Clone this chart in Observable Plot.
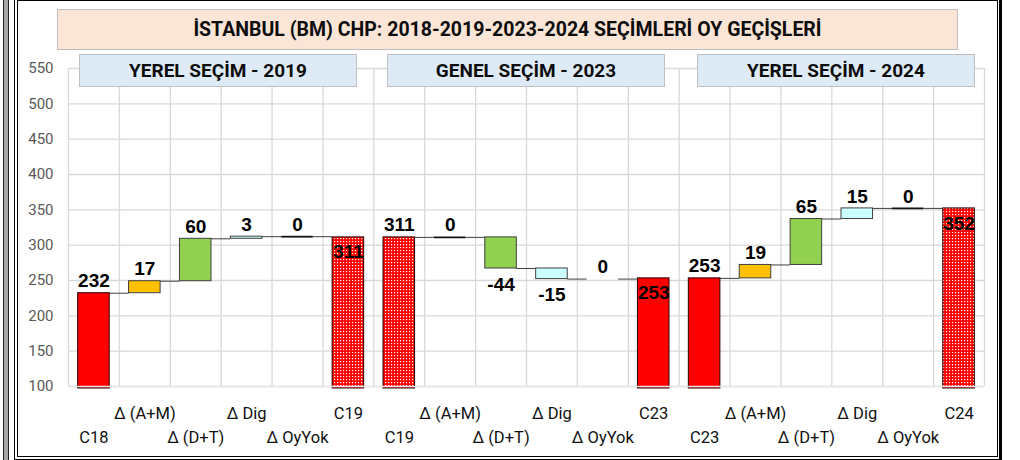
<!DOCTYPE html>
<html><head><meta charset="utf-8">
<script src="https://cdn.jsdelivr.net/npm/d3@7"></script>
<script src="https://cdn.jsdelivr.net/npm/@observablehq/plot@0.6"></script>
<style>
html,body{margin:0;padding:0;background:#fff;}
#wrap{position:relative;width:1020px;height:460px;overflow:hidden;font-family:Roboto,sans-serif;}
#chart{position:absolute;left:0;top:0;}
.box{position:absolute;box-sizing:border-box;display:flex;align-items:center;justify-content:center;font-weight:700;color:#0d0d0d;border:1.5px solid #bfbfbf;white-space:nowrap;}
.title{left:57px;top:9px;width:901px;height:41px;background:#fbe5d6;font-size:19.5px;}
.panel{top:54px;height:33px;background:#deebf7;font-size:19px;}
.frame{position:absolute;box-sizing:border-box;}
</style></head>
<body>
<div id="wrap">
  <div id="chart"></div>
</div>
<script>
// ---- data ----
const chartTitle = "İSTANBUL (BM) CHP: 2018-2019-2023-2024 SEÇİMLERİ OY GEÇİŞLERİ";
const groupTitles = ["YEREL SEÇİM - 2019", "GENEL SEÇİM - 2023", "YEREL SEÇİM - 2024"];
const startNames = ["C18", "C19", "C23"];
const endNames = ["C19", "C23", "C24"];
const stepNames = ["Δ (A+M)", "Δ (D+T)", "Δ Dig", "Δ OyYok"];
const startValues = [232, 311, 253];
const endValues = [311, 253, 352];
const steps2019 = [17, 60, 3, 0];
const steps2023 = [0, -44, -15, 0];
const steps2024 = [19, 65, 15, 0];
const hiddenSteps = [[], ["Δ OyYok"], []];
const stepColors = ["#ffc000", "#92d050", "#ccffff", "#000000"];
const dottedTotals = ["C19", "C24"];
const yTicks = [100, 150, 200, 250, 300, 350, 400, 450, 500, 550];

// ---- build tables ----
const yMin = yTicks[0], yMax = yTicks[yTicks.length - 1];
const stepsByGroup = [steps2019, steps2023, steps2024];
const bars = [], connectors = [], labels = [], cats = [];
groupTitles.forEach((g, gi) => {
  const base = gi * 6;
  let level = startValues[gi];
  bars.push({i: base, kind: "total", y1: yMin, y2: level,
    fill: dottedTotals.includes(startNames[gi]) ? "url(#dotsRed)" : "#ff0000"});
  labels.push({i: base, y: level, text: String(level), pos: "above"});
  cats.push({i: base, name: startNames[gi]});
  connectors.push({i: base, y: level});
  stepsByGroup[gi].forEach((v, k) => {
    const i = base + 1 + k;
    const from = level;
    level = from + v;
    bars.push({i, kind: "step", y1: from, y2: level, fill: stepColors[k],
      hidden: hiddenSteps[gi].includes(stepNames[k])});
    labels.push({i, y: v < 0 ? level : Math.max(from, level), text: String(v), pos: v < 0 ? "below" : "above"});
    cats.push({i, name: stepNames[k]});
    connectors.push({i, y: level});
  });
  const e = base + 5;
  bars.push({i: e, kind: "total", y1: yMin, y2: endValues[gi],
    fill: dottedTotals.includes(endNames[gi]) ? "url(#dotsRed)" : "#ff0000"});
  labels.push({i: e, y: endValues[gi], text: String(endValues[gi]), pos: "inside"});
  cats.push({i: e, name: endNames[gi]});
});
// connectors only within a group
const conns = connectors.filter(d => d.i % 6 < 5);

const L = d => d.i + 0.19, R = d => d.i + 0.81;

const defsMark = () => {
  const ns = "http://www.w3.org/2000/svg";
  const g = document.createElementNS(ns, "g");
  g.innerHTML = `<defs><pattern id="dotsRed" width="3" height="3" patternUnits="userSpaceOnUse">
    <rect width="3" height="3" fill="#ff0000"></rect>
    <rect x="1" y="1" width="1.2" height="1.2" fill="#ffffff"></rect></pattern></defs>`;
  return g;
};

const numFont = "'Liberation Sans', Arial, sans-serif";

const chart = Plot.plot({
  width: 1020, height: 460,
  marginLeft: 68, marginRight: 36, marginTop: 68, marginBottom: 74,
  style: {background: "transparent", color: "#595959", fontFamily: "Roboto, sans-serif"},
  x: {domain: [0, 18], axis: null},
  y: {domain: [yMin, yMax], axis: null},
  color: {type: "identity"},
  marks: [
    defsMark,
    Plot.ruleY(yTicks, {stroke: "#d9d9d9", strokeWidth: 1.3}),
    Plot.ruleX(d3.range(19), {y1: yMin, y2: yMax, stroke: "#d9d9d9", strokeWidth: 1.3}),
    Plot.axisY(yTicks, {tickSize: 0, tickPadding: 15, fontSize: 15, color: "#595959"}),
    Plot.ruleY(conns, {y: "y", x1: d => d.i + 0.81, x2: d => d.i + 1.19, stroke: "#404040", strokeWidth: 1}),
    Plot.rect(bars.filter(d => d.kind === "total"), {x1: L, x2: R, y1: "y1", y2: "y2", fill: "fill", stroke: "#2a0000", strokeWidth: 1, insetBottom: -2}),
    Plot.rect(bars.filter(d => d.kind === "step" && d.y1 !== d.y2), {x1: L, x2: R, y1: "y1", y2: "y2", fill: "fill", stroke: "#404040", strokeWidth: 1}),
    Plot.ruleY(bars.filter(d => d.kind === "step" && d.y1 === d.y2 && !d.hidden), {y: "y1", x1: L, x2: R, stroke: "#111", strokeWidth: 1.8}),
    Plot.ruleY([yMin], {stroke: "#e6e6e6", strokeWidth: 1.3}),
    Plot.text(labels.filter(d => d.pos === "above"), {x: d => d.i + 0.5, y: "y", text: "text", dy: -12, lineAnchor: "middle", fontSize: 19, fontWeight: "bold", fontFamily: numFont, fill: "#000"}),
    Plot.text(labels.filter(d => d.pos === "below"), {x: d => d.i + 0.5, y: "y", text: "text", dy: 16, lineAnchor: "middle", fontSize: 19, fontWeight: "bold", fontFamily: numFont, fill: "#000"}),
    Plot.text(labels.filter(d => d.pos === "inside"), {x: d => d.i + 0.5, y: "y", text: "text", dy: 15, lineAnchor: "middle", fontSize: 19, fontWeight: "bold", fontFamily: numFont, fill: "#000"}),
    Plot.text(cats.filter(d => d.i % 2 === 1), {x: d => d.i + 0.5, text: "name", frameAnchor: "bottom", lineAnchor: "middle", dy: 27, fontSize: 16.5, fill: "#111"}),
    Plot.text(cats.filter(d => d.i % 2 === 0), {x: d => d.i + 0.5, text: "name", frameAnchor: "bottom", lineAnchor: "middle", dy: 51, fontSize: 16.5, fill: "#111"})
  ]
});
document.getElementById("chart").appendChild(chart);

// ---- overlays: title, panel headers, frame ----
const wrap = document.getElementById("wrap");
function addDiv(cls, style, text) {
  const d = document.createElement("div");
  d.className = cls;
  Object.assign(d.style, style);
  if (text) d.textContent = text;
  wrap.appendChild(d);
  return d;
}
addDiv("box title", {}, chartTitle);
const panelLeft = [79, 387, 697];
groupTitles.forEach((t, gi) => addDiv("box panel", {left: panelLeft[gi] + "px", width: "278px"}, t));
addDiv("frame", {left: "3px", top: "-2px", width: "6px", height: "464px", background: "#a6a6a6", borderLeft: "1px solid #222", borderRight: "1px solid #222"});
addDiv("frame", {left: "14px", top: "-2px", width: "988px", height: "463px", borderLeft: "1.5px solid #000", borderRight: "3px solid #000", borderBottom: "2px solid #000"});
addDiv("frame", {left: "17px", top: "0px", width: "981px", height: "457px", border: "1.3px solid #000"});
</script>
</body></html>
